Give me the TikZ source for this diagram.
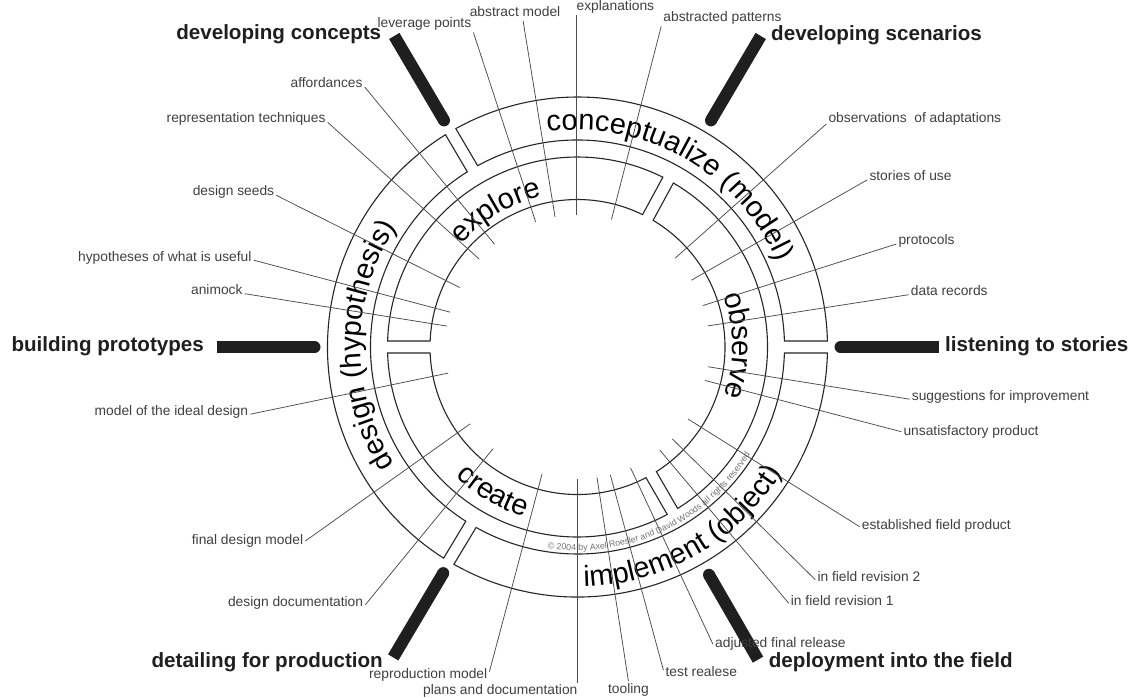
\documentclass[tikz,border=0pt]{standalone}
\usepackage{fontspec}
\setmainfont{Liberation Sans}
\usetikzlibrary{decorations.text,calc}
\newcommand\lblfont{\fontsize{13.8}{16}\selectfont}
\newcommand\boldlblfont{\fontsize{20.6}{24}\selectfont\bfseries}
\newcommand\ringfont{\fontsize{29}{32}\selectfont}
\newcommand\copyfont{\fontsize{8.8}{10}\selectfont}
\newcommand\ringseg[4]{\draw[ring] ({#3+asin(6/#2)}:#2pt) arc[start angle={#3+asin(6/#2)}, end angle={#4-asin(6/#2)}, radius=#2pt] -- ({#4-asin(6/#1)}:#1pt) arc[start angle={#4-asin(6/#1)}, end angle={#3+asin(6/#1)}, radius=#1pt] -- cycle;}
\newcommand\phasebar[1]{\draw[bar] (#1:263pt) -- (#1:361pt); \fill[black!88] (#1:263pt) circle[radius=6pt];}
\begin{document}
\begin{tikzpicture}[x=1pt,y=-1pt,
 lbl/.style={font=\lblfont, text=black!75, inner sep=2pt, text height=9.5pt, text depth=2.5pt},
 blbl/.style={font=\boldlblfont, text=black!88, inner sep=0pt},
 leader/.style={draw=black!70, line width=0.75pt},
 ring/.style={draw=black!85, line width=1.1pt},
 bar/.style={draw=black!88, line width=12pt},
 ringtext/.style={decorate, decoration={text along path, text align=center, text={|\ringfont|#1}}},
 copytext/.style={decorate, decoration={text along path, text align=center, text color=black!55, text={|\copyfont|#1}}}]
\fill[white] (0,0) rectangle (1132,697);
\useasboundingbox (0,0) rectangle (1132,697);
\coordinate (C) at (577.5,347);
\begin{scope}[shift={(C)}]
 % inner ring
 \ringseg{147.5}{190}{-60}{61.5}
 \ringseg{147.5}{190}{61.5}{180}
 \ringseg{147.5}{190}{180}{300}
 % outer ring
 \ringseg{207}{250}{0}{120.5}
 \ringseg{207}{250}{120.5}{239}
 \ringseg{207}{250}{239}{360}
 % phase bars
 \phasebar{0}
 \phasebar{59.5}
 \phasebar{120.5}
 \phasebar{180}
 \phasebar{239.3}
 \phasebar{300}
 % ring texts
 \path[ringtext={conceptualize (model)}] (110.5:217pt) arc[start angle=110.5, end angle=10.5, radius=217pt];
 \path[ringtext={design (hypothesis)}] (229.6:217pt) arc[start angle=229.6, end angle=129.6, radius=217pt];
 \path[ringtext={implement (object)}] (250:240pt) arc[start angle=250, end angle=350, radius=240pt];
 \path[ringtext={explore}] (171:155pt) arc[start angle=171, end angle=71, radius=155pt];
 \path[ringtext={observe}] (50.5:155pt) arc[start angle=50.5, end angle=-49.5, radius=155pt];
 \path[ringtext={create}] (189.7:178pt) arc[start angle=189.7, end angle=289.7, radius=178pt];
 \path[copytext={© 2004 by Axel Roesler and David Woods all rights reserved}] (244.8:203.5pt) arc[start angle=244.8, end angle=344.8, radius=203.5pt];
 % leader end points
 \coordinate (elev) at (108.5:132pt);
 \coordinate (eabs) at (99.8:132pt);
 \coordinate (eexp) at (90.3:132pt);
 \coordinate (eapa) at (75.1:132pt);
 \coordinate (eobs) at (42.3:132pt);
 \coordinate (esto) at (30.4:132pt);
 \coordinate (epro) at (18.3:132pt);
 \coordinate (edat) at (9.2:132pt);
 \coordinate (esug) at (-8.6:132pt);
 \coordinate (euns) at (-14.7:132pt);
 \coordinate (eest) at (-33.1:132pt);
 \coordinate (erv2) at (-44.1:132pt);
 \coordinate (erv1) at (-51.4:132pt);
 \coordinate (eadj) at (-66.3:132pt);
 \coordinate (etes) at (-75.6:132pt);
 \coordinate (etoo) at (-81.5:132pt);
 \coordinate (epla) at (-90:132pt);
 \coordinate (erep) at (-105.6:132pt);
 \coordinate (eddo) at (-129.7:132pt);
 \coordinate (efdm) at (-144.4:132pt);
 \coordinate (emid) at (191.4:132pt);
 \coordinate (eani) at (170.9:132pt);
 \coordinate (ehyp) at (164.7:132pt);
 \coordinate (esee) at (153.2:132pt);
 \coordinate (ertc) at (138.2:132pt);
 \coordinate (eaff) at (128.9:132pt);
\end{scope}
% bold phase labels
\node[blbl, anchor=east] (dc) at (381.4,34.6) {developing concepts};
\node[blbl, anchor=west] (ds) at (771,35.4) {developing scenarios};
\node[blbl, anchor=east] (bp) at (204,346) {building prototypes};
\node[blbl, anchor=west] (ls) at (945,346) {listening to stories};
\node[blbl, anchor=east] (dp) at (383,662.6) {detailing for production};
\node[blbl, anchor=west] (df) at (768.7,662.6) {deployment into the field};
% small labels
\node[lbl, anchor=east] (lev) at (473.4,24.3) {leverage points};
\node[lbl, anchor=west] (abs) at (467.6,12.5) {abstract model};
\node[lbl, anchor=west] (exp) at (574.4,6.6) {explanations};
\node[lbl, anchor=west] (apa) at (661.2,18.2) {abstracted patterns};
\node[lbl, anchor=east] (aff) at (364.7,84) {affordances};
\node[lbl, anchor=east] (rtc) at (327.7,119.3) {representation techniques};
\node[lbl, anchor=east] (see) at (276.3,192.3) {design seeds};
\node[lbl, anchor=east] (hyp) at (253.7,257.7) {hypotheses of what is useful};
\node[lbl, anchor=east] (ani) at (244.7,290.7) {animock};
\node[lbl, anchor=east] (mid) at (250.3,411.7) {model of the ideal design};
\node[lbl, anchor=east] (fdm) at (305.3,541) {final design model};
\node[lbl, anchor=east] (ddo) at (365.3,603.3) {design documentation};
\node[lbl, anchor=east] (rep) at (489.4,674.7) {reproduction model};
\node[lbl, anchor=east] (pla) at (579.6,690.9) {plans and documentation};
\node[lbl, anchor=west] (too) at (605.9,689.5) {tooling};
\node[lbl, anchor=west] (tes) at (663.4,673) {test realese};
\node[lbl, anchor=west] (adj) at (713,644.3) {adjusted final release};
\node[lbl, anchor=west] (rv1) at (788.7,601.7) {in field revision 1};
\node[lbl, anchor=west] (rv2) at (815.3,577.7) {in field revision 2};
\node[lbl, anchor=west] (est) at (859.7,525.7) {established field product};
\node[lbl, anchor=west] (uns) at (901.3,431.7) {unsatisfactory product};
\node[lbl, anchor=west] (sug) at (909.7,396.7) {suggestions for improvement};
\node[lbl, anchor=west] (dat) at (908.7,291.7) {data records};
\node[lbl, anchor=west] (pro) at (896.3,241) {protocols};
\node[lbl, anchor=west] (sto) at (867.3,177.3) {stories of use};
\node[lbl, anchor=west] (obs) at (826.3,119) {observations\ \ of adaptations};
% leader lines
\draw[leader] (lev.south east) -- (elev);
\draw[leader] ([xshift=8pt]abs.south) -- (eabs);
\draw[leader] (exp.south west -| eexp) -- (eexp);
\draw[leader] (apa.south west) -- (eapa);
\draw[leader] ([yshift=-3pt]aff.east) -- (eaff);
\draw[leader] ([yshift=-3pt]rtc.east) -- (ertc);
\draw[leader] ([yshift=-3pt]see.east) -- (esee);
\draw[leader] ([yshift=-2.5pt]hyp.east) -- (ehyp);
\draw[leader] ([yshift=-3pt]ani.east) -- (eani);
\draw[leader] ([yshift=-2.5pt]mid.east) -- (emid);
\draw[leader] (fdm.east) -- (efdm);
\draw[leader] ([yshift=-1.5pt]ddo.east) -- (eddo);
\draw[leader] ([yshift=3pt]rep.east) -- (erep);
\draw[leader] (pla.north -| epla) -- (epla);
\draw[leader] (too.north) -- (etoo);
\draw[leader] ([yshift=3pt]tes.west) -- (etes);
\draw[leader] (adj.west) -- (eadj);
\draw[leader] ([yshift=-1.5pt]rv1.west) -- (erv1);
\draw[leader] ([yshift=-2pt]rv2.west) -- (erv2);
\draw[leader] ([yshift=-1pt]est.west) -- (eest);
\draw[leader] (uns.west) -- (euns);
\draw[leader] ([yshift=-2.5pt]sug.west) -- (esug);
\draw[leader] ([yshift=-3pt]dat.west) -- (edat);
\draw[leader] ([yshift=-3pt]pro.west) -- (epro);
\draw[leader] ([yshift=-2.5pt]sto.west) -- (esto);
\draw[leader] ([yshift=-5pt]obs.west) -- (eobs);
\end{tikzpicture}
\end{document}
